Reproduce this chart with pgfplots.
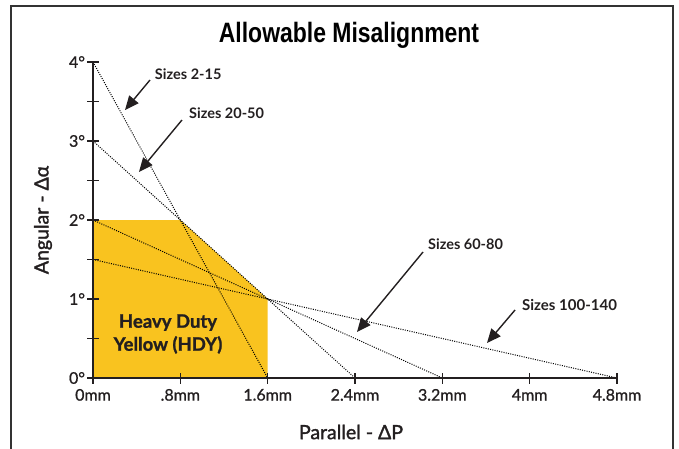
\documentclass[border=0pt]{standalone}
\usepackage{fontspec}
\setmainfont{Lato}
\newfontfamily\latomed[FakeBold=1.6]{Lato}
\newfontfamily\latotick[FakeBold=1.0]{Lato}
\newfontfamily\latoheavy[FakeBold=1.2]{Lato}
\newfontfamily\titlefont[FakeStretch=0.82]{Liberation Sans}
\usepackage{pgfplots}
\pgfplotsset{compat=1.18}
\usetikzlibrary{arrows.meta}
\definecolor{hdy}{HTML}{F9C31F}
\definecolor{ink}{HTML}{231F20}
\begin{document}
\begin{tikzpicture}[x=1pt,y=1pt]
\useasboundingbox (0,0) rectangle (679,448);
\draw[black!80, line width=1.6pt] (11,-20) rectangle (673,442);
\node[anchor=base, font=\titlefont\bfseries\fontsize{28}{30}\selectfont] at (349,405) {Allowable Misalignment};
\node[rotate=90, font=\latomed\fontsize{19.5}{22}\selectfont, text=ink] at (43,228) {Angular - Δα};
\node[font=\latomed\fontsize{19.5}{22}\selectfont, text=ink] at (351,16) {Parallel - ΔP};
\begin{axis}[
  at={(93pt,70pt)}, anchor=south west,
  scale only axis, width=524pt, height=316pt,
  xmin=0, xmax=4.8, ymin=0, ymax=4,
  axis x line=bottom, axis y line=left,
  every outer x axis line/.append style={-, line width=2.6pt, color=ink},
  every outer y axis line/.append style={-, line width=2.6pt, color=ink},
  clip=false, axis on top,
  xtick={0,0.8,1.6,2.4,3.2,4,4.8},
  xticklabels={0mm,.8mm,1.6mm,2.4mm,3.2mm,4mm,4.8mm},
  ytick={0,1,2,3,4},
  yticklabels={0°,1°,2°,3°,4°},
  minor ytick={0.5,1.5,2.5,3.5},
  tick align=center,
  major tick length=11pt, minor tick length=11pt,
  tick style={line width=1.3pt, color=ink},
  every tick label/.append style={font=\latotick\fontsize{16}{18}\selectfont, text=ink},
  xticklabel style={yshift=-2pt},
  yticklabel style={xshift=1pt},
]
\addplot[fill=hdy, draw=none] coordinates {(0,0) (0,2) (0.8,2) (1.6,1) (1.6,0)} -- cycle;
\addplot[black, line width=1pt, dash pattern=on 1pt off 1.3pt] coordinates {(0,4) (1.6,0)};
\addplot[black, line width=1pt, dash pattern=on 1pt off 1.3pt] coordinates {(0,3) (2.4,0)};
\addplot[black, line width=1pt, dash pattern=on 1pt off 1.3pt] coordinates {(0,2) (3.2,0)};
\addplot[black, line width=1pt, dash pattern=on 1pt off 1.3pt] coordinates {(0,1.5) (4.8,0)};
\draw[-{Triangle[length=14pt,width=12pt]}, line width=1.4pt, ink] (axis cs:0.522,3.772) -- (axis cs:0.293,3.392);
\draw[-{Triangle[length=14pt,width=12pt]}, line width=1.4pt, ink] (axis cs:0.815,3.266) -- (axis cs:0.421,2.608);
\draw[-{Triangle[length=14pt,width=12pt]}, line width=1.4pt, ink] (axis cs:3.023,1.595) -- (axis cs:2.418,0.582);
\draw[-{Triangle[length=14pt,width=12pt]}, line width=1.4pt, ink] (axis cs:3.866,0.861) -- (axis cs:3.609,0.443);
\node[anchor=west, font=\bfseries\fontsize{14.5}{16}\selectfont, text=ink, inner sep=0pt] at (axis cs:0.566,3.848) {Sizes 2-15};
\node[anchor=west, font=\bfseries\fontsize{14.5}{16}\selectfont, text=ink, inner sep=0pt] at (axis cs:0.879,3.354) {Sizes 20-50};
\node[anchor=west, font=\bfseries\fontsize{14.5}{16}\selectfont, text=ink, inner sep=0pt] at (axis cs:3.068,1.696) {Sizes 60-80};
\node[anchor=west, font=\bfseries\fontsize{15}{16}\selectfont, text=ink, inner sep=0pt] at (axis cs:3.929,0.924) {Sizes 100-140};
\node[align=center, font=\latoheavy\bfseries\fontsize{18.5}{23}\selectfont, text=ink] at (axis cs:0.687,0.557) {Heavy Duty\\Yellow (HDY)};
\end{axis}
\end{tikzpicture}
\end{document}
